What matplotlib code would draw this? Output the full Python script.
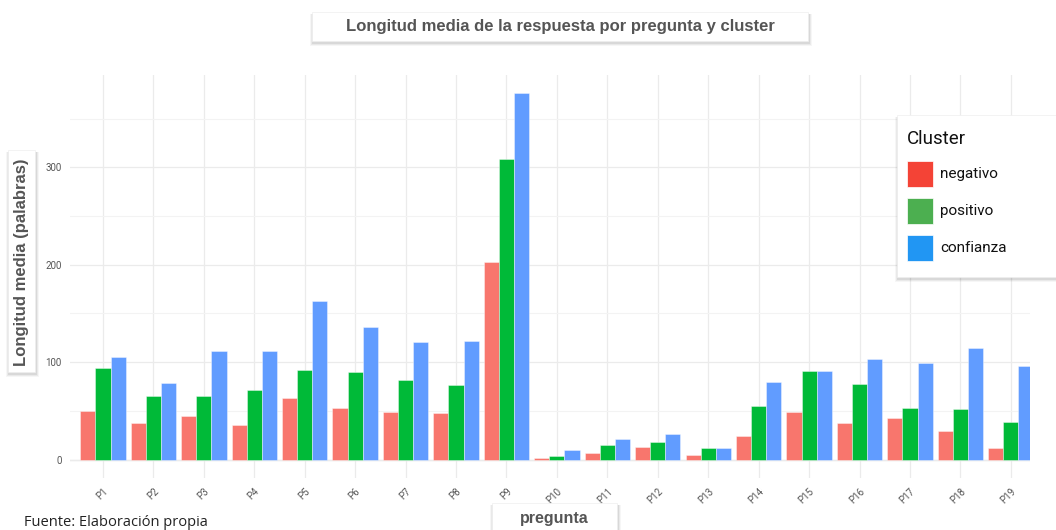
import numpy as np
import matplotlib.pyplot as plt
from matplotlib.patches import Rectangle

# ---- data ----
preguntas = ['P%d' % i for i in range(1, 20)]
negativo = [50, 37, 45, 35, 63, 53, 49, 48, 203, 2, 6.5, 13, 4.5, 24, 49, 38, 43, 29, 12]
positivo = [94, 65, 65, 71, 92, 90, 82, 77, 309, 3.5, 15, 18, 11.5, 55, 91, 78, 53, 52, 39]
confianza = [105, 79, 111, 111, 163, 136, 121, 122, 377, 10, 21, 26, 11.5, 80, 91, 103, 99, 115, 96]

series = [negativo, positivo, confianza]
bar_colors = ['#F8766D', '#00BA38', '#619CFF']
legend_labels = ['negativo', 'positivo', 'confianza']
legend_colors = ['#F44336', '#4CAF50', '#2196F3']

W, H = 1056, 530
fig = plt.figure(figsize=(W / 100, H / 100), dpi=100)


def px(x, y):
    # pixel coords (from top-left) -> figure fraction
    return x / W, 1 - y / H


def shadow_box(x0, y0, x1, y1):
    # soft drop shadow + white box, in pixel coords
    for i, a in enumerate([0.035, 0.05, 0.07]):
        d = 3 - i
        fx, fy = px(x0 + 1 - d, y1 + 2 + d)
        fig.patches.append(Rectangle((fx, fy), (x1 - x0 + 2 * d) / W, (y1 - y0 + d) / H,
                                     transform=fig.transFigure, color='black', alpha=a,
                                     lw=0, zorder=5))
    fx, fy = px(x0, y1)
    fig.patches.append(Rectangle((fx, fy), (x1 - x0) / W, (y1 - y0) / H,
                                 transform=fig.transFigure, facecolor='white',
                                 edgecolor='#eeeeee', lw=0.5, zorder=6))


# ---- plot area ----
left, right, top, bottom = 70, 1030, 75, 478
ax = fig.add_axes([left / W, 1 - bottom / H, (right - left) / W, (bottom - top) / H])

x = np.arange(len(preguntas))
w = 0.3
for k, (vals, c) in enumerate(zip(series, bar_colors)):
    ax.bar(x + (k - 1) * w, vals, width=w, color=c, edgecolor=(1, 1, 1, 0.45),
           linewidth=0.6, zorder=3)

ax.set_xlim(-0.654, 18.38)
ax.set_ylim(-19, 395)
ax.set_xticks(x)
ax.set_xticklabels(preguntas, rotation=45, ha='right', va='top', rotation_mode='anchor',
                   fontsize=7, color='#555555', family='Roboto')
ax.set_yticks([0, 100, 200, 300])
ax.set_yticks([50, 150, 250, 350], minor=True)
ax.set_yticklabels(['0', '100', '200', '300'], fontsize=7, color='#555555', family='Roboto')
ax.tick_params(axis='both', which='both', length=0)
ax.tick_params(axis='x', pad=6)
ax.tick_params(axis='y', pad=6)
ax.grid(True, which='major', color='#ebebeb', lw=0.9, zorder=0)
ax.grid(True, which='minor', axis='y', color='#f3f3f3', lw=0.8, zorder=0)
ax.axhline(0, color='#e0e0e0', lw=0.9, zorder=1)
for s in ax.spines.values():
    s.set_visible(False)

# ---- title ----
shadow_box(312, 12, 808, 41)
fig.text(*px(560, 27), 'Longitud media de la respuesta por pregunta y cluster',
         ha='center', va='center', fontsize=12, fontweight='bold', color='#555555',
         family='Liberation Sans', zorder=7)

# ---- y label ----
shadow_box(8, 150, 35, 372)
fig.text(*px(22, 262), 'Longitud media (palabras)', rotation=90, ha='center', va='center',
         fontsize=12, fontweight='bold', color='#555555', family='Liberation Sans', zorder=7)

# ---- x label ----
shadow_box(492, 503, 617, 540)
fig.text(*px(554, 518), 'pregunta', ha='center', va='center', fontsize=11.5,
         fontweight='bold', color='#555555', family='Liberation Sans', zorder=7)

# ---- source note ----
fig.text(*px(24, 522), 'Fuente: Elaboración propia', ha='left', va='center',
         fontsize=10.5, color='#222222', family='Open Sans')

# ---- legend ----
shadow_box(897, 115, 1062, 277)
fig.text(*px(907, 139), 'Cluster', ha='left', va='center', fontsize=13.5,
         color='#111111', family='Roboto', zorder=7)
for i, (lab, c) in enumerate(zip(legend_labels, legend_colors)):
    yc = 174 + i * 37
    fx, fy = px(907, yc + 13)
    fig.patches.append(Rectangle((fx, fy), 26 / W, 26 / H, transform=fig.transFigure,
                                 facecolor=c, edgecolor='white', lw=0.5, zorder=7))
    fig.text(*px(940, yc), lab, ha='left', va='center', fontsize=11,
             color='#111111', family='Roboto', zorder=7)

fig.savefig('out.png', dpi=100)
